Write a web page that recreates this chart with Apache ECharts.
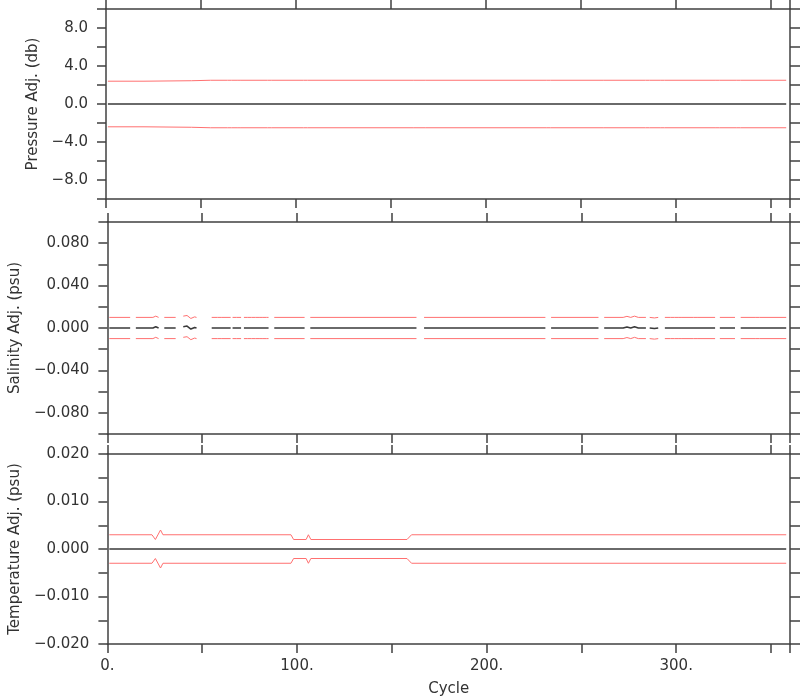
<!DOCTYPE html>
<html>
<head>
<meta charset="utf-8">
<script src="https://cdn.jsdelivr.net/npm/echarts@6/dist/echarts.min.js"></script>
<style>html,body{margin:0;padding:0;background:#fff}#c{width:800px;height:700px}</style>
</head>
<body>
<div id="c"></div>
<script>
// ---- Pressure (db): cycle, adjustment, error ----
const presCycles = [1, 20, 45, 55, 64, 65, 66, 69, 70, 71, 85, 86, 87, 104, 105, 106, 160, 161, 162, 168, 169, 170, 232, 233, 234, 260, 261, 262, 284, 285, 286, 292, 293, 294, 321, 322, 323, 332, 333, 334, 358];
const presAdj    = [0, 0, 0, 0, 0, 0, 0, 0, 0, 0, 0, 0, 0, 0, 0, 0, 0, 0, 0, 0, 0, 0, 0, 0, 0, 0, 0, 0, 0, 0, 0, 0, 0, 0, 0, 0, 0, 0, 0, 0, 0];
const presErr    = [2.40, 2.40, 2.45, 2.50, 2.50, 2.58, 2.50, 2.50, 2.58, 2.50, 2.50, 2.56, 2.50, 2.50, 2.56, 2.50, 2.50, 2.57, 2.50, 2.50, 2.57, 2.50, 2.50, 2.55, 2.50, 2.50, 2.55, 2.50, 2.50, 2.56, 2.50, 2.50, 2.56, 2.50, 2.50, 2.56, 2.50, 2.50, 2.56, 2.50, 2.50];

// ---- Salinity (psu): null adjustment = missing data (gap) ----
const salCycles = [1, 12, 13.5, 15, 24, 25.5, 27, 28.5, 30, 36, 38, 40, 42, 44, 46, 47, 51, 55, 58, 59, 60, 65, 65.5, 66, 67, 68, 70.5, 71, 72, 74, 75, 76, 78, 79, 80, 82, 83, 84, 85, 86.5, 88, 104, 105.5, 107, 163, 165, 167, 231, 232.5, 234, 259, 260.5, 262, 272, 274, 276, 278, 280, 284, 285, 286, 287, 288.5, 289.5, 290.5, 292, 294, 297, 298, 299, 301, 302, 303, 309, 310, 311, 320.5, 321.5, 323, 331, 332.5, 334, 342, 343, 344, 358];
const salAdj    = [0, 0, null, 0, 0, 0.0012, 0, null, 0, 0, null, 0.0012, 0.0018, -0.0010, 0.0005, 0, null, 0, 0, 0.0010, 0, 0, null, 0, 0.0008, 0, 0, null, 0, 0, 0.0010, 0, 0, 0.0010, 0, 0, 0.0008, 0, 0, null, 0, 0, null, 0, 0, null, 0, 0, null, 0, 0, null, 0, 0, 0.0010, 0, 0.0012, 0, 0, null, 0, 0.0010, -0.0005, 0.0008, 0, null, 0, 0, 0.0010, 0, 0, 0.0010, 0, 0, 0.0010, 0, 0, null, 0, 0, null, 0, 0, 0.0010, 0, 0];
const salErr = 0.010;

// ---- Temperature ----
const tempCycles = [1, 23.5, 25.3, 28, 29.3, 96.8, 98.2, 104.8, 106, 107.3, 158, 160.4, 358];
const tempAdj    = [0, 0, 0, 0, 0, 0, 0, 0, 0, 0, 0, 0, 0];
const tempErr    = [0.003, 0.003, 0.002, 0.004, 0.003, 0.003, 0.002, 0.002, 0.003, 0.002, 0.002, 0.003, 0.003];

// ---- Axis ticks ----
const xMin = 0, xMax = 360, xInterval = 50;
const presRange = [-10, 10, 2];
const salRange = [-0.1, 0.1, 0.02];
const tempRange = [-0.02, 0.02, 0.005];

const MINUS = '\u2212';
const fmtNum = s => s.replace('-', MINUS);
const presFmt = v => { const k = Math.round(v); return (k % 4 === 0 && Math.abs(k) < 10) ? fmtNum(k.toFixed(1)) : ''; };
const salFmt = v => { const k = Math.round(v * 100); return (k % 4 === 0 && Math.abs(k) < 10) ? fmtNum((k / 100).toFixed(3)) : ''; };
const tempFmt = v => { const k = Math.round(v * 1000); return (k % 10 === 0) ? fmtNum((k / 1000).toFixed(3)) : ''; };
const xFmt = v => (Math.round(v) % 100 === 0) ? (Math.round(v) + '.') : '';

const AX = '#404040';
const FONT = 'DejaVu Sans';
const TXT = '#333';
const FS = 15;

const grids = [
  {left: 106, right: 10, top: 9, height: 190},
  {left: 106, right: 10, top: 222, height: 212},
  {left: 106, right: 10, top: 454, height: 190}
];

function xAxes(gi, showLabels) {
  const base = {
    type: 'value', gridIndex: gi, min: xMin, max: xMax, interval: xInterval,
    axisLine: {show: true, onZero: false, lineStyle: {color: AX, width: 1.5}},
    axisTick: {show: true, length: 9, lineStyle: {color: AX, width: 1.5}},
    splitLine: {show: false}
  };
  const bottom = Object.assign({}, base, {
    position: 'bottom',
    axisLabel: {show: showLabels, formatter: xFmt, fontFamily: FONT, fontSize: FS, color: TXT, margin: 15}
  });
  if (showLabels) {
    bottom.name = 'Cycle';
    bottom.nameLocation = 'middle';
    bottom.nameGap = 38;
    bottom.nameTextStyle = {fontFamily: FONT, fontSize: FS, color: TXT};
  }
  const top = Object.assign({}, base, {position: 'top', axisLabel: {show: false}});
  return [bottom, top];
}

function yAxes(gi, range, fmt, name) {
  const base = {
    type: 'value', gridIndex: gi, min: range[0], max: range[1], interval: range[2],
    axisLine: {show: true, onZero: false, lineStyle: {color: AX, width: 1.5}},
    axisTick: {show: true, length: 9, lineStyle: {color: AX, width: 1.5}},
    splitLine: {show: false}
  };
  const left = Object.assign({}, base, {
    position: 'left',
    axisLabel: {show: true, formatter: fmt, fontFamily: FONT, fontSize: FS, color: TXT, margin: 18},
    name: name, nameLocation: 'middle', nameGap: 62,
    nameTextStyle: {fontFamily: FONT, fontSize: FS, color: TXT}
  });
  const right = Object.assign({}, base, {position: 'right', axisLabel: {show: false},
    axisTick: {show: true, length: 10, lineStyle: {color: AX, width: 1.5}}});
  return [left, right];
}

function mk(cycles, vals) {
  return cycles.map((c, i) => [c, vals[i] === null ? '-' : vals[i]]);
}
function band(cycles, adj, err, sign) {
  return cycles.map((c, i) => {
    if (adj[i] === null) return [c, '-'];
    const e = Array.isArray(err) ? err[i] : err;
    return [c, adj[i] + sign * e];
  });
}

function lineSeries(xi, yi, data, color, width) {
  return {
    type: 'line', xAxisIndex: xi, yAxisIndex: yi, data: data, showSymbol: false, symbol: 'none',
    lineStyle: {color: color, width: width}, connectNulls: false, silent: true, animation: false
  };
}

const RED = '#ff7070';
const BLK = '#3a3a3a';

const option = {
  backgroundColor: '#fff',
  animation: false,
  grid: grids,
  xAxis: [].concat(xAxes(0, false), xAxes(1, false), xAxes(2, true)),
  yAxis: [].concat(
    yAxes(0, presRange, presFmt, 'Pressure Adj. (db)'),
    yAxes(1, salRange, salFmt, 'Salinity Adj. (psu)'),
    yAxes(2, tempRange, tempFmt, 'Temperature Adj. (psu)')
  ),
  series: [
    lineSeries(0, 0, band(presCycles, presAdj, presErr, 1), RED, 1),
    lineSeries(0, 0, band(presCycles, presAdj, presErr, -1), RED, 1),
    lineSeries(0, 0, mk(presCycles, presAdj), BLK, 1.5),
    lineSeries(2, 2, band(salCycles, salAdj, salErr, 1), RED, 1),
    lineSeries(2, 2, band(salCycles, salAdj, salErr, -1), RED, 1),
    lineSeries(2, 2, mk(salCycles, salAdj), BLK, 1.5),
    lineSeries(4, 4, band(tempCycles, tempAdj, tempErr, 1), RED, 1),
    lineSeries(4, 4, band(tempCycles, tempAdj, tempErr, -1), RED, 1),
    lineSeries(4, 4, mk(tempCycles, tempAdj), BLK, 1.5)
  ]
};

const chart = echarts.init(document.getElementById('c'), null, {renderer: 'canvas'});
chart.setOption(option);
</script>
</body>
</html>
